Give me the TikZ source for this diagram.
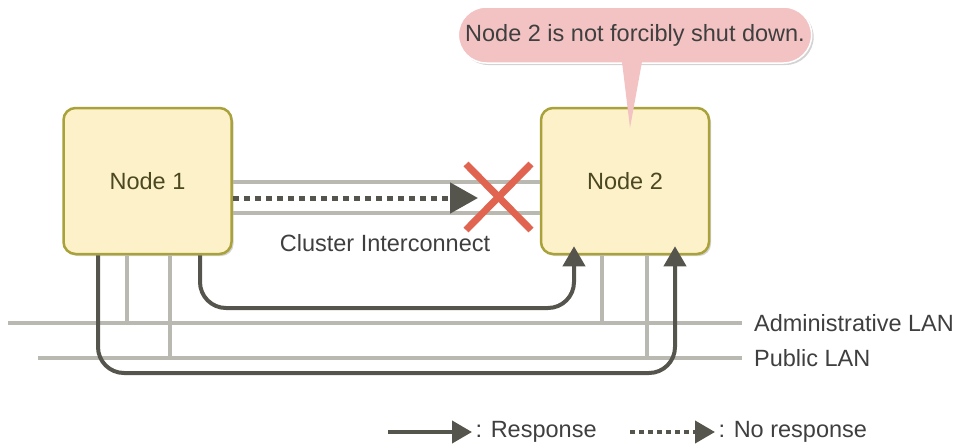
\documentclass[tikz,border=0pt]{standalone}
\usepackage{fontspec}
\setmainfont{Liberation Sans}
\usetikzlibrary{arrows.meta, positioning, shapes.misc, shadows}

\definecolor{boxfill}{HTML}{FDF1C9}
\definecolor{boxedge}{HTML}{A9A23A}
\definecolor{boxtext}{HTML}{4B4720}
\definecolor{lantone}{HTML}{B9B9B1}
\definecolor{wiretone}{HTML}{55554D}
\definecolor{crosstone}{HTML}{E0644F}
\definecolor{notefill}{HTML}{F3C3C3}
\definecolor{texttone}{HTML}{3F3F3F}

\begin{document}
\begin{tikzpicture}[x=1pt, y=-1pt,
    every node/.style={font=\fontsize{23.5}{28}\selectfont, text=texttone},
    server/.style={draw=boxedge, line width=2.5pt, fill=boxfill, rounded corners=12pt,
      minimum width=168pt, minimum height=146pt, text=boxtext,
      drop shadow={shadow xshift=2pt, shadow yshift=-2pt, opacity=0.35}},
    bubble/.style={rounded rectangle, fill=notefill, draw=white, line width=1.5pt,
      minimum width=360pt, minimum height=56pt,
      drop shadow={shadow xshift=2pt, shadow yshift=-2pt, opacity=0.35}},
    lan/.style={draw=lantone, line width=3.5pt},
    resp/.style={draw=wiretone, line width=4pt, rounded corners=26pt,
      -{Triangle[length=20pt, width=22pt]}},
    noresp/.style={draw=wiretone, line width=5pt, dash pattern=on 6pt off 5pt,
      -{Triangle[length=28pt, width=30pt]}}]
      \useasboundingbox (0,0) rectangle (957,447);

      % Nodes
      \node[server] (node1) at (147.5,181) {Node 1};
      \node[server] (node2) at (625,181) {Node 2};

      % Cluster interconnect
      \draw[lan] ([yshift=-1pt]node1.east) -- ([yshift=-1pt]node2.west);
      \draw[lan] ([yshift=-32pt]node1.east) -- ([yshift=-32pt]node2.west);
      \coordinate (cut) at (478,198);
      \draw[noresp] ([yshift=-17pt]node1.east) -- (cut);
      \draw[crosstone, line width=7pt] (466,164) -- (531,230) (466,230) -- (531,164);
      \node (ic) at (385,243) {Cluster Interconnect};

      % LANs
      \coordinate (adm) at (742,323);
      \coordinate (pub) at (742,358);
      \draw[lan] (8,323) -- (adm) node[right=7pt] (admtxt) {Administrative LAN};
      \draw[lan] (38,358) -- (pub) node[right=7pt] (pubtxt) {Public LAN};
      \draw[lan] (127,0 |- node1.south) -- (127,0 |- adm);
      \draw[lan] (170,0 |- node1.south) -- (170,0 |- pub);
      \draw[lan] (602,0 |- node2.south) -- (602,0 |- adm);
      \draw[lan] (647,0 |- node2.south) -- (647,0 |- pub);

      % Responses over the LANs
      \draw[resp] (node1.south -| 200,0) |- (574,308) -- ([yshift=9pt]node2.south -| 574,0);
      \draw[resp] (node1.south -| 98,0) |- (675,373) -- ([yshift=9pt]node2.south -| 675,0);

      % Callout
      \node[bubble] (note) at (635,35) {Node 2 is not forcibly shut down.};
      \coordinate (notetip) at (630,128);
      \fill[notefill] ([xshift=-13pt, yshift=2pt]note.south) -- (notetip)
        -- ([xshift=7pt, yshift=2pt]note.south) -- cycle;

      % Legend
      \node[anchor=west] (legresp) at (472,432) {: Response};
      \coordinate (legresp0) at (388,432);
      \draw[resp] (legresp0) -- (legresp.west);
      \node[anchor=west] (legnoresp) at (715,432) {: No response};
      \coordinate (legnoresp0) at (630,432);
      \draw[noresp, line width=4pt, dash pattern=on 5pt off 4pt,
        -{Triangle[length=20pt, width=22pt]}] (legnoresp0) -- (legnoresp.west);
\end{tikzpicture}
\end{document}
